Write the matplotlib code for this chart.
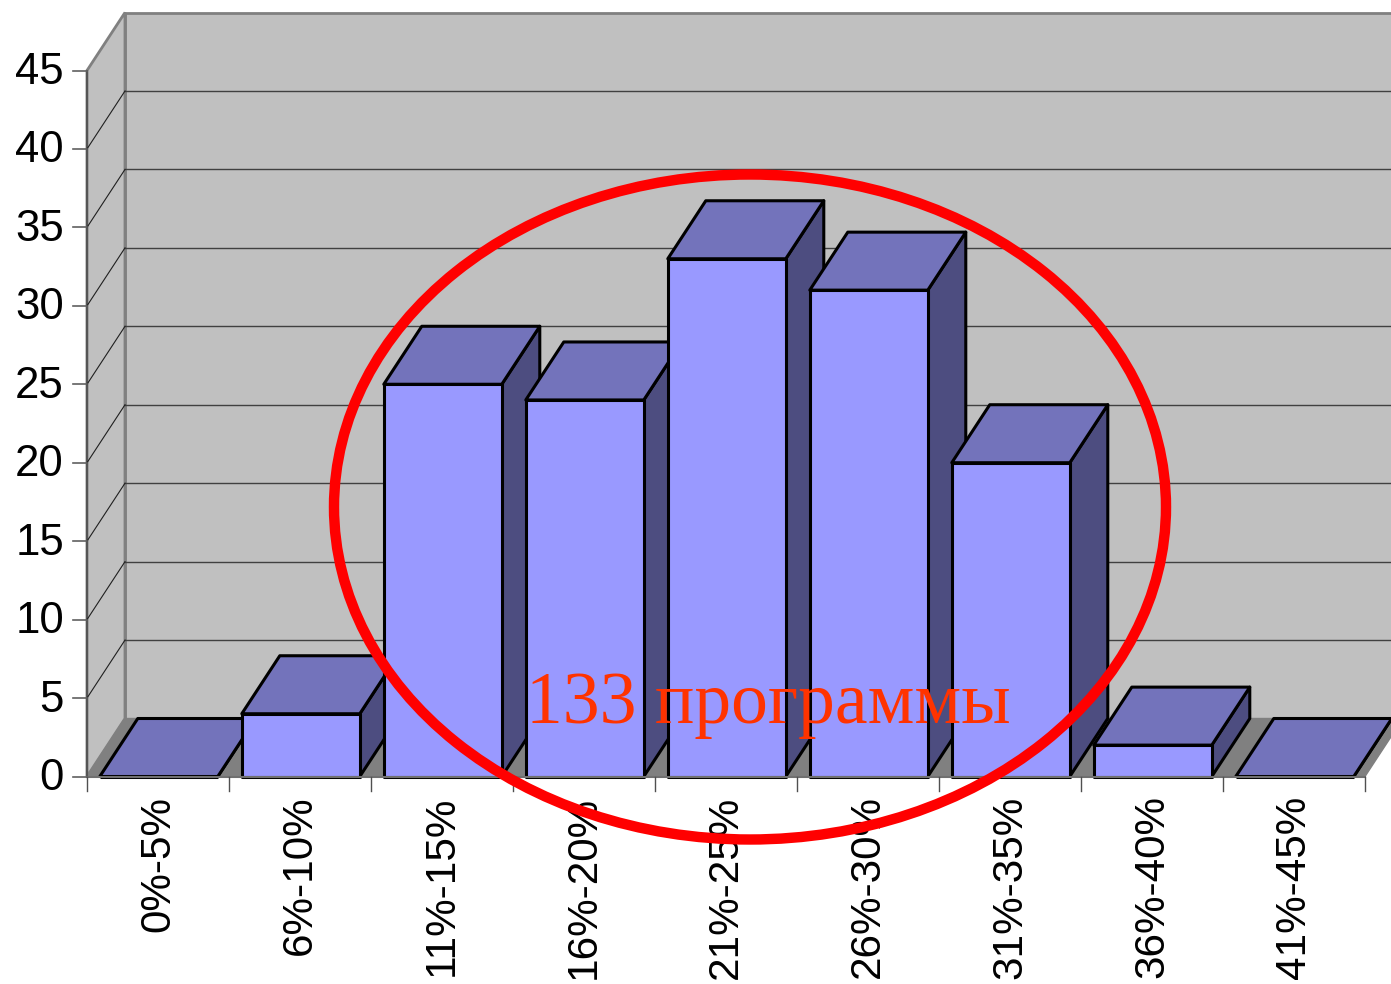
import matplotlib
matplotlib.use("Agg")
import matplotlib.pyplot as plt
from matplotlib.patches import Polygon, Ellipse

categories = ["0%-5%", "6%-10%", "11%-15%", "16%-20%", "21%-25%",
              "26%-30%", "31%-35%", "36%-40%", "41%-45%"]
values = [0, 4, 25, 24, 33, 31, 20, 2, 0]
y_ticks = [0, 5, 10, 15, 20, 25, 30, 35, 40, 45]

W, H = 1391, 984
x0_px, x_step = 87, 142
y0_px, y_step = 776.5, 706 / 45
# depth of the fake 3d box
dx = 38 / x_step
dy = 58 / y_step
bar_w = 118 / x_step
bar_off = 0.09

fig = plt.figure(figsize=(W / 100, H / 100), dpi=100)
ax = fig.add_axes([0, 0, 1, 1])
ax.set_xlim(-x0_px / x_step, (W - x0_px) / x_step)
ax.set_ylim(-(H - y0_px) / y_step, y0_px / y_step)
ax.axis("off")

n = len(categories)
wall = "#c0c0c0"
floor = "#808080"
edge_grey = "#808080"

# walls and floor
ax.add_patch(Polygon([(dx, dy), (n + dx, dy), (n + dx, 45 + dy), (dx, 45 + dy)],
                     fc=wall, ec=edge_grey, lw=2, zorder=1))
ax.add_patch(Polygon([(0, 0), (dx, dy), (dx, 45 + dy), (0, 45)],
                     fc=wall, ec=edge_grey, lw=2, zorder=1))
ax.add_patch(Polygon([(0, 0), (n, 0), (n + dx, dy), (dx, dy)],
                     fc=floor, ec=edge_grey, lw=1, zorder=1))
ax.plot([0, 0], [0, 45], color="#555555", lw=1.5, zorder=2)

for t in y_ticks[1:-1]:
    ax.plot([dx, n + dx], [t + dy, t + dy], color="#404040", lw=1, zorder=2)
    ax.plot([0, dx], [t, t + dy], color="#202020", lw=0.8, zorder=2)

# bars, left to right so the next front covers the previous side
for i, v in enumerate(values):
    l = i + bar_off
    r = l + bar_w
    z = 3 + i * 0.1
    style = dict(ec="black", lw=2.2, joinstyle="round", zorder=z)
    ax.add_patch(Polygon([(r, 0), (r + dx, dy), (r + dx, v + dy), (r, v)], fc="#4d4d80", **style))
    ax.add_patch(Polygon([(l, v), (r, v), (r + dx, v + dy), (l + dx, v + dy)], fc="#7373bb", **style))
    ax.add_patch(Polygon([(l, 0), (r, 0), (r, v), (l, v)], fc="#9999ff", **style))

# axis lines, ticks, labels
ax.plot([0, n], [0, 0], color="#707070", lw=1.5, zorder=4)
for t in y_ticks:
    ax.plot([-14 / x_step, 0], [t, t], color="#606060", lw=1.2, zorder=4)
    ax.text(-23 / x_step, t - 2 / y_step, str(t), ha="right", va="center",
            family="Liberation Sans", fontsize=31.5, color="black", zorder=4)
for i in range(n + 1):
    ax.plot([i, i], [0, -14 / y_step], color="#505050", lw=1, zorder=4)
for i, c in enumerate(categories):
    ax.text(i + 0.5, -19 / y_step, c, rotation=90, ha="center", va="top",
            family="Liberation Sans", fontsize=30.4, color="black", zorder=4)

ax.text((768 - x0_px) / x_step, (y0_px - 705) / y_step, "133 программы", ha="center", va="center",
        family="Liberation Serif", fontsize=53, color="#ff3300", zorder=6)

# red ellipse
ax.add_patch(Ellipse(((750 - x0_px) / x_step, (y0_px - 507) / y_step),
                     832 / x_step, 665 / y_step, fc="none", ec="#ff0000", lw=7.5, zorder=5))

fig.savefig("out.png", dpi=100)
